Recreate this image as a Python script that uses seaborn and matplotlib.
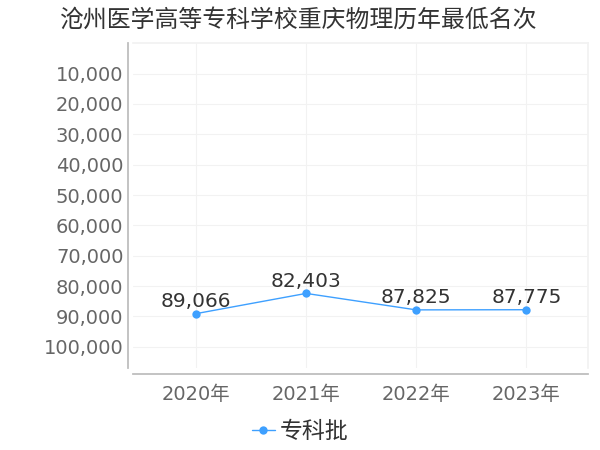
import seaborn as sns
import matplotlib.pyplot as plt
import pandas as pd

sns.set_theme(style='white')
plt.rcParams['font.family'] = ['DejaVu Sans', 'Noto Sans CJK SC']

title = '沧州医学高等专科学校重庆物理历年最低名次'
years = ['2020年', '2021年', '2022年', '2023年']
ranks = [89066, 82403, 87825, 87775]
series_name = '专科批'
y_ticks = [10000, 20000, 30000, 40000, 50000, 60000, 70000, 80000, 90000, 100000]

df = pd.DataFrame({'year': years, 'rank': ranks, 'batch': series_name})

fig = plt.figure(figsize=(6, 4.5), dpi=100)
ax = fig.add_axes([0.222, 0.182, 0.758, 0.722])

line_color = '#3ea0ff'
sns.lineplot(data=df, x='year', y='rank', hue='batch', palette=[line_color],
             marker='o', markersize=6, markeredgewidth=0, linewidth=1,
             sort=False, ax=ax)

for i, v in enumerate(ranks):
    ax.text(i, v - 900, f'{v:,}', ha='center', va='bottom', fontsize=14.5, color='#333333')

ax.set_ylim(107000, 0)
ax.set_xlim(-0.57, 3.56)
ax.set_yticks(y_ticks)
ax.set_yticklabels([f'{t:,}' for t in y_ticks])
ax.tick_params(axis='both', labelsize=14, labelcolor='#666666', length=0, pad=3)
ax.tick_params(axis='x', length=4, color='#cccccc', pad=4)
ax.set_xlabel('')
ax.set_ylabel('')

ax.grid(True, color='#f2f2f2', linewidth=0.8)
for side in ['top', 'right']:
    ax.spines[side].set_color('#f2f2f2')
for side in ['left', 'bottom']:
    ax.spines[side].set_color('#bbbbbb')
    ax.spines[side].set_position(('outward', 4))

handles, labels = ax.get_legend_handles_labels()
ax.get_legend().remove()
fig.legend(handles, labels, loc='center', bbox_to_anchor=(0.5, 0.04), frameon=False,
           fontsize=16.5, handlelength=1.0, handletextpad=0.2,
           labelcolor='#333333')

fig.text(0.1, 0.955, title, fontsize=17.2, color='#333333', va='center',
         family=['Noto Sans CJK SC', 'DejaVu Sans'])

fig.savefig('out.png', dpi=100)
plt.close(fig)
